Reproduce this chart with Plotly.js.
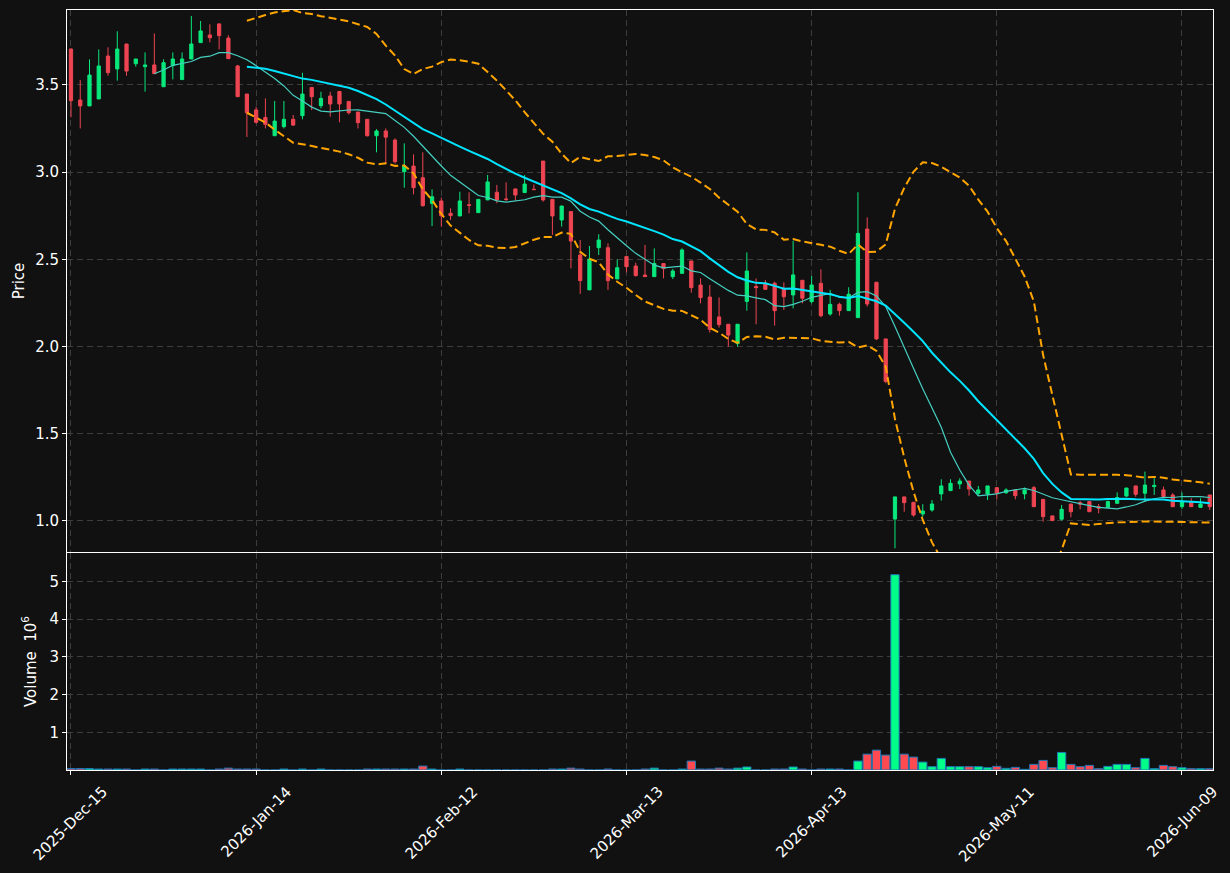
<!DOCTYPE html>
<html>
<head>
<meta charset="utf-8">
<script src="https://cdn.plot.ly/plotly-3.0.1.min.js"></script>
<style>
  html, body { margin: 0; padding: 0; background: #111111; }
  #chart { width: 1230px; height: 873px; }
</style>
</head>
<body>
<div id="chart"></div>
<script>
// ---------------- data ----------------
const dates = [
  '2025-12-15','2025-12-16','2025-12-17','2025-12-18','2025-12-19','2025-12-22','2025-12-23','2025-12-24','2025-12-26','2025-12-29','2025-12-30','2025-12-31',
  '2026-01-02','2026-01-05','2026-01-06','2026-01-07','2026-01-08','2026-01-09','2026-01-12','2026-01-13','2026-01-14','2026-01-15','2026-01-16','2026-01-20','2026-01-21','2026-01-22','2026-01-23','2026-01-26','2026-01-27','2026-01-28','2026-01-29','2026-01-30',
  '2026-02-02','2026-02-03','2026-02-04','2026-02-05','2026-02-06','2026-02-09','2026-02-10','2026-02-11','2026-02-12','2026-02-13','2026-02-17','2026-02-18','2026-02-19','2026-02-20','2026-02-23','2026-02-24','2026-02-25','2026-02-26','2026-02-27',
  '2026-03-02','2026-03-03','2026-03-04','2026-03-05','2026-03-06','2026-03-09','2026-03-10','2026-03-11','2026-03-12','2026-03-13','2026-03-16','2026-03-17','2026-03-18','2026-03-19','2026-03-20','2026-03-23','2026-03-24','2026-03-25','2026-03-26','2026-03-27','2026-03-30','2026-03-31',
  '2026-04-01','2026-04-02','2026-04-06','2026-04-07','2026-04-08','2026-04-09','2026-04-10','2026-04-13','2026-04-14','2026-04-15','2026-04-16','2026-04-17','2026-04-20','2026-04-21','2026-04-22','2026-04-23','2026-04-24','2026-04-27','2026-04-28','2026-04-29','2026-04-30',
  '2026-05-01','2026-05-04','2026-05-05','2026-05-06','2026-05-07','2026-05-08','2026-05-11','2026-05-12','2026-05-13','2026-05-14','2026-05-15','2026-05-18','2026-05-19','2026-05-20','2026-05-21','2026-05-22','2026-05-26','2026-05-27','2026-05-28','2026-05-29',
  '2026-06-01','2026-06-02','2026-06-03','2026-06-04','2026-06-05','2026-06-08','2026-06-09','2026-06-10','2026-06-11','2026-06-12'
];

const open = [
  3.706,3.414,3.380,3.420,3.666,3.592,3.735,3.622,3.605,3.615,3.490,3.611,3.531,3.649,3.743,3.787,3.850,3.769,3.609,3.448,
  3.357,3.314,3.209,3.261,3.303,3.324,3.486,3.381,3.437,3.463,3.406,3.345,3.303,3.209,3.236,3.184,3.003,3.035,2.968,2.821,
  2.835,2.764,2.749,2.813,2.768,2.841,2.885,2.846,2.904,2.883,2.902,3.064,2.844,2.726,2.774,2.525,2.325,2.567,2.567,2.388,
  2.516,2.462,2.410,2.401,2.476,2.401,2.420,2.491,2.353,2.284,2.170,2.128,2.017,2.259,2.345,2.363,2.363,2.334,2.296,2.380,
  2.258,2.363,2.187,2.242,2.206,2.166,2.674,2.369,2.044,1.011,1.138,1.107,1.040,1.063,1.155,1.174,1.212,1.229,1.159,1.155,
  1.191,1.162,1.178,1.155,1.191,1.124,1.029,1.010,1.097,1.105,1.111,1.082,1.078,1.101,1.143,1.201,1.159,1.197,1.178,1.149,
  1.082,1.111,1.078,1.149
];
const high = [
  3.710,3.529,3.647,3.704,3.716,3.808,3.735,3.649,3.687,3.796,3.647,3.687,3.687,3.896,3.867,3.848,3.854,3.785,3.615,3.448,
  3.375,3.423,3.408,3.408,3.328,3.570,3.486,3.461,3.461,3.463,3.406,3.345,3.303,3.247,3.251,3.194,3.165,3.102,3.114,2.901,
  2.854,2.793,2.888,2.885,2.844,2.984,2.927,2.942,2.904,2.984,2.930,3.064,2.844,2.806,2.774,2.611,2.577,2.644,2.592,2.500,
  2.516,2.481,2.583,2.563,2.476,2.445,2.563,2.491,2.391,2.353,2.282,2.128,2.128,2.540,2.391,2.382,2.372,2.368,2.607,2.380,
  2.405,2.443,2.325,2.252,2.340,2.885,2.741,2.369,2.044,1.138,1.138,1.107,1.096,1.120,1.239,1.239,1.245,1.229,1.201,1.201,
  1.191,1.187,1.178,1.191,1.201,1.124,1.029,1.092,1.097,1.115,1.113,1.097,1.117,1.164,1.189,1.201,1.283,1.245,1.197,1.159,
  1.164,1.130,1.130,1.149
];
const low = [
  3.315,3.251,3.380,3.420,3.553,3.525,3.553,3.605,3.462,3.565,3.490,3.532,3.531,3.649,3.743,3.745,3.704,3.651,3.433,3.202,
  3.280,3.251,3.209,3.251,3.265,3.303,3.356,3.366,3.318,3.286,3.331,3.251,3.205,3.114,3.050,3.050,2.911,2.873,2.802,2.691,
  2.687,2.726,2.749,2.764,2.768,2.841,2.822,2.835,2.835,2.883,2.900,2.831,2.640,2.688,2.449,2.302,2.325,2.525,2.325,2.388,
  2.425,2.401,2.401,2.401,2.391,2.387,2.420,2.309,2.248,2.080,2.109,1.999,1.999,2.206,2.128,2.328,2.120,2.210,2.219,2.248,
  2.248,2.168,2.177,2.177,2.206,2.166,2.229,2.038,1.790,0.843,1.053,1.025,1.025,1.053,1.117,1.174,1.183,1.145,1.143,1.120,
  1.124,1.155,1.124,1.124,1.082,0.996,1.002,1.002,1.021,1.067,1.053,1.044,1.078,1.101,1.139,1.139,1.111,1.149,1.140,1.082,
  1.069,1.082,1.078,1.063
];
const close = [
  3.410,3.380,3.557,3.609,3.571,3.706,3.580,3.649,3.615,3.565,3.628,3.649,3.649,3.735,3.810,3.771,3.783,3.651,3.433,3.341,
  3.286,3.274,3.293,3.303,3.270,3.448,3.433,3.423,3.391,3.391,3.341,3.284,3.209,3.236,3.201,3.060,3.035,2.911,2.808,2.859,
  2.750,2.751,2.835,2.810,2.844,2.944,2.841,2.844,2.869,2.932,2.900,2.841,2.749,2.806,2.605,2.378,2.502,2.611,2.378,2.452,
  2.458,2.407,2.401,2.476,2.447,2.433,2.554,2.338,2.281,2.099,2.126,2.066,2.128,2.433,2.338,2.328,2.206,2.286,2.411,2.277,
  2.353,2.177,2.242,2.206,2.300,2.649,2.244,2.044,1.800,1.138,1.105,1.034,1.057,1.097,1.201,1.216,1.229,1.183,1.178,1.201,
  1.159,1.178,1.145,1.178,1.082,1.025,1.002,1.067,1.053,1.096,1.053,1.073,1.111,1.134,1.189,1.153,1.206,1.204,1.140,1.082,
  1.111,1.082,1.097,1.082
];
// volume in millions of shares
const volumeM = [
  0.040,0.040,0.040,0.026,0.026,0.026,0.026,0.000,0.026,0.026,0.000,0.026,0.026,0.026,0.026,0.000,0.026,0.050,0.026,0.026,
  0.026,0.000,0.000,0.026,0.000,0.026,0.000,0.026,0.000,0.000,0.000,0.000,0.026,0.026,0.026,0.026,0.026,0.026,0.105,0.026,
  0.000,0.000,0.026,0.000,0.000,0.000,0.000,0.000,0.000,0.000,0.000,0.000,0.026,0.026,0.050,0.026,0.000,0.000,0.026,0.000,
  0.000,0.000,0.026,0.050,0.000,0.000,0.026,0.237,0.026,0.026,0.050,0.026,0.050,0.080,0.000,0.000,0.026,0.026,0.080,0.026,
  0.000,0.026,0.026,0.026,0.000,0.237,0.420,0.526,0.395,5.175,0.420,0.342,0.210,0.088,0.307,0.088,0.088,0.088,0.088,0.061,
  0.096,0.044,0.070,0.018,0.149,0.254,0.061,0.465,0.149,0.088,0.123,0.035,0.096,0.149,0.149,0.061,0.307,0.035,0.123,0.088,
  0.061,0.035,0.035,0.035
];
const monthNames = ['Jan','Feb','Mar','Apr','May','Jun','Jul','Aug','Sep','Oct','Nov','Dec'];
const priceTicks = [1.0, 1.5, 2.0, 2.5, 3.0, 3.5];
const volumeTicks = [1, 2, 3, 4, 5];
const tickStep = 20;        // a date label every 20 sessions
const maShort = 10, maLong = 20, bbStd = 2;

// ---------------- derived series ----------------
const idx = dates.map((d, i) => i);
function fmtDate(s) {
  const p = s.split('-');
  return p[0] + '-' + monthNames[parseInt(p[1], 10) - 1] + '-' + p[2];
}
function rollingMean(a, n) {
  return a.map((v, i) => {
    if (i < n - 1) return null;
    let s = 0; for (let k = i - n + 1; k <= i; k++) s += a[k];
    return s / n;
  });
}
function rollingStd(a, n) {
  return a.map((v, i) => {
    if (i < n - 1) return null;
    let s = 0; for (let k = i - n + 1; k <= i; k++) s += a[k];
    const m = s / n;
    let q = 0; for (let k = i - n + 1; k <= i; k++) q += (a[k] - m) * (a[k] - m);
    return Math.sqrt(q / (n - 1));
  });
}
const ma10 = rollingMean(close, maShort);
const ma20 = rollingMean(close, maLong);
const sd20 = rollingStd(close, maLong);
const bbUp = ma20.map((m, i) => m === null ? null : m + bbStd * sd20[i]);
const bbLo = ma20.map((m, i) => m === null ? null : m - bbStd * sd20[i]);

const tickIdx = idx.filter(i => i % tickStep === 0);
const tickTxt = tickIdx.map(i => fmtDate(dates[i]));

const UP = '#08e87c', DOWN = '#ee4552';
const VUP = '#00ff88', VDOWN = '#ff4a52';
const volColors = close.map((c, i) => c >= open[i] ? VUP : VDOWN);

// ---------------- traces ----------------
const traces = [
  {
    type: 'candlestick', x: idx, open: open, high: high, low: low, close: close,
    xaxis: 'x', yaxis: 'y',
    increasing: { line: { color: UP, width: 1 }, fillcolor: UP },
    decreasing: { line: { color: DOWN, width: 1 }, fillcolor: DOWN },
    whiskerwidth: 0, hoverinfo: 'skip', showlegend: false
  },
  { type: 'scatter', mode: 'lines', x: idx, y: ma10, xaxis: 'x', yaxis: 'y',
    line: { color: '#45d0c2', width: 1.2 }, hoverinfo: 'skip', showlegend: false },
  { type: 'scatter', mode: 'lines', x: idx, y: ma20, xaxis: 'x', yaxis: 'y',
    line: { color: '#00e5ff', width: 2 }, hoverinfo: 'skip', showlegend: false },
  { type: 'scatter', mode: 'lines', x: idx, y: bbUp, xaxis: 'x', yaxis: 'y',
    line: { color: '#ffa500', width: 2, dash: '8px,4px' }, hoverinfo: 'skip', showlegend: false },
  { type: 'scatter', mode: 'lines', x: idx, y: bbLo, xaxis: 'x', yaxis: 'y',
    line: { color: '#ffa500', width: 2, dash: '8px,4px' }, hoverinfo: 'skip', showlegend: false },
  { type: 'bar', x: idx, y: volumeM, xaxis: 'x2', yaxis: 'y2', width: 0.9,
    marker: { color: volColors, line: { color: '#1f77b4', width: 1 } },
    hoverinfo: 'skip', showlegend: false }
];

// ---------------- layout ----------------
const FONT = { family: 'DejaVu Sans, sans-serif', size: 15, color: '#ffffff' };
const GRID = '#3d3d3d';
const common = {
  showline: true, linecolor: '#ffffff', linewidth: 1, mirror: true,
  showgrid: true, gridcolor: GRID, griddash: '6px,4px', gridwidth: 1,
  zeroline: false, tickcolor: '#ffffff', ticklen: 4, tickwidth: 1,
  tickfont: FONT
};
const H = 873, mb = 103, mt = 10;
const plotH = H - mb - mt;

// date labels: rotated 45 degrees and centred under each tick
const dateLabels = tickIdx.map((v, k) => ({
  text: tickTxt[k], x: v, xref: 'x2', y: 0, yref: 'paper',
  xanchor: 'center', yanchor: 'top', yshift: -10, textangle: -45,
  showarrow: false, font: FONT
}));

const layout = {
  width: 1230, height: 873,
  paper_bgcolor: '#111111', plot_bgcolor: '#111111',
  font: FONT,
  margin: { l: 67, r: 17, t: mt, b: mb },
  boxgap: 0.5,
  bargap: 0,
  annotations: dateLabels,
  xaxis: Object.assign({}, common, {
    anchor: 'y', domain: [0, 1], range: [-0.43, 123.35],
    tickmode: 'array', tickvals: tickIdx,
    showticklabels: false, ticks: '', rangeslider: { visible: false }
  }),
  xaxis2: Object.assign({}, common, {
    anchor: 'y2', domain: [0, 1], matches: 'x', range: [-0.43, 123.35],
    tickmode: 'array', tickvals: tickIdx,
    showticklabels: false, ticks: 'outside'
  }),
  yaxis: Object.assign({}, common, {
    domain: [(770 - 552) / plotH, 1], anchor: 'x',
    range: [0.822, 3.930], tickmode: 'array', tickvals: priceTicks,
    ticktext: priceTicks.map(v => v.toFixed(1)), ticks: 'outside',
    title: { text: 'Price', font: FONT, standoff: 6 }
  }),
  yaxis2: Object.assign({}, common, {
    domain: [0, (770 - 553) / plotH], anchor: 'x2',
    range: [0, 5.75], tickmode: 'array', tickvals: volumeTicks,
    ticktext: volumeTicks.map(String), ticks: 'outside',
    title: { text: 'Volume  10<sup>6</sup>', font: FONT, standoff: 9 }
  })
};

Plotly.newPlot('chart', traces, layout, { displayModeBar: false, staticPlot: true });
</script>
</body>
</html>
